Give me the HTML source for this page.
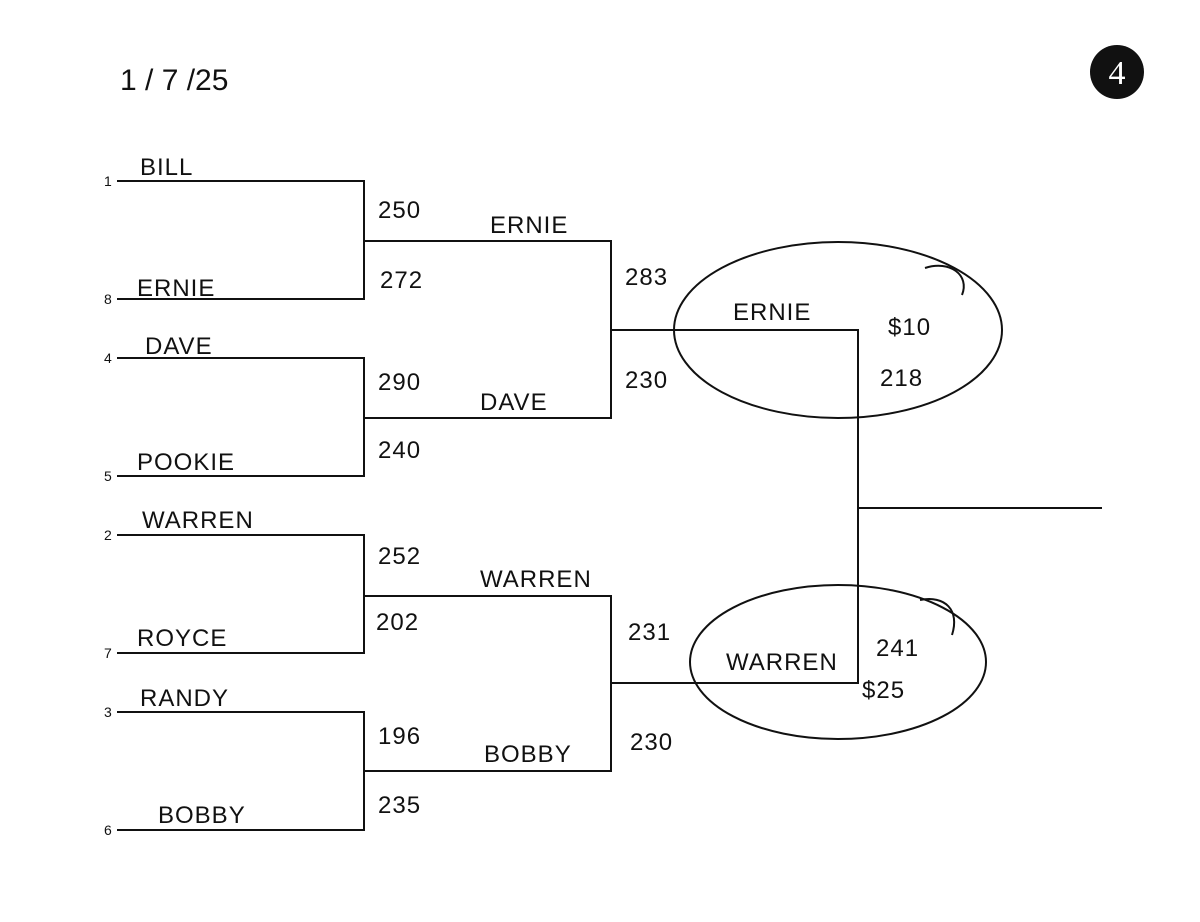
<!DOCTYPE html>
<html><head><meta charset="utf-8"><style>
html,body{margin:0;padding:0;background:#fff}
svg{display:block}
text{font-family:"Liberation Sans",sans-serif;fill:#111}
.h{font-size:24px;letter-spacing:1px}
.n{font-family:"Liberation Serif",serif;font-size:14px}
</style></head><body>
<svg width="1200" height="922" viewBox="0 0 1200 922">
<g stroke="#111" stroke-width="2" fill="none">
<path d="M117 181H364V299H117M117 358H364V476H117M117 535H364V653H117M117 712H364V830H117"/>
<path d="M364 241H611V418H364M364 596H611V771H364"/>
<path d="M611 330H858V683H611M858 508H1102"/>
<ellipse cx="838" cy="330" rx="164" ry="88"/>
<path d="M925 268C950 260 970 275 962 295"/>
<ellipse cx="838" cy="662" rx="148" ry="77"/>
<path d="M920 600C945 595 960 610 952 635"/>
</g>
<circle cx="1117" cy="72" r="27" fill="#111"/>
<text x="1117" y="84" text-anchor="middle" style="font-family:'Liberation Serif',serif;font-size:34px;fill:#fff">4</text>
<text x="120" y="90" style="font-size:30px">1 / 7 /25</text>
<g class="n">
<text x="104" y="186">1</text><text x="104" y="304">8</text><text x="104" y="363">4</text><text x="104" y="481">5</text>
<text x="104" y="540">2</text><text x="104" y="658">7</text><text x="104" y="717">3</text><text x="104" y="835">6</text>
</g>
<g class="h">
<text x="140" y="175">BILL</text>
<text x="137" y="296">ERNIE</text>
<text x="145" y="354">DAVE</text>
<text x="137" y="470">POOKIE</text>
<text x="142" y="528">WARREN</text>
<text x="137" y="646">ROYCE</text>
<text x="140" y="706">RANDY</text>
<text x="158" y="823">BOBBY</text>
<text x="490" y="233">ERNIE</text>
<text x="480" y="410">DAVE</text>
<text x="480" y="587">WARREN</text>
<text x="484" y="762">BOBBY</text>
<text x="733" y="320">ERNIE</text>
<text x="726" y="670">WARREN</text>
<text x="378" y="218">250</text>
<text x="380" y="288">272</text>
<text x="378" y="390">290</text>
<text x="378" y="458">240</text>
<text x="378" y="564">252</text>
<text x="376" y="630">202</text>
<text x="378" y="744">196</text>
<text x="378" y="813">235</text>
<text x="625" y="285">283</text>
<text x="625" y="388">230</text>
<text x="628" y="640">231</text>
<text x="630" y="750">230</text>
<text x="888" y="335">$10</text>
<text x="880" y="386">218</text>
<text x="876" y="656">241</text>
<text x="862" y="698">$25</text>
</g>
</svg>
</body></html>
